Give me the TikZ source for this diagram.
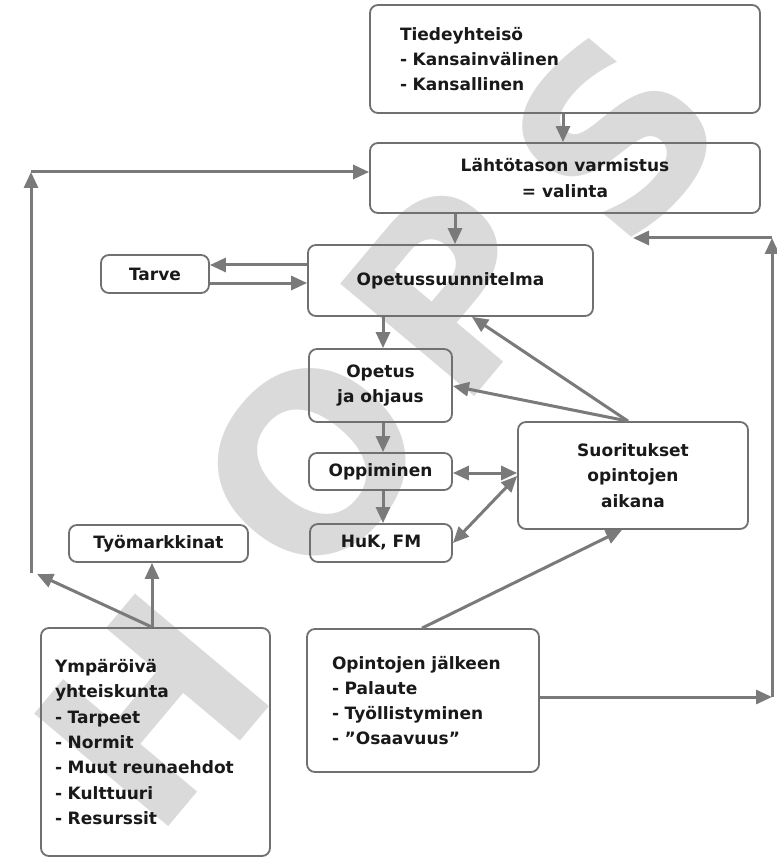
\documentclass[tikz,border=0pt]{standalone}
\usepackage{fontspec}
\setmainfont{DejaVu Sans}
\usetikzlibrary{arrows.meta,calc}
\definecolor{linegray}{RGB}{122,122,122}
\definecolor{boxgray}{RGB}{112,112,112}
\definecolor{markgray}{RGB}{218,218,218}
\definecolor{ink}{RGB}{25,25,25}

\begin{document}
\begin{tikzpicture}[x=1pt,y=-1pt,
  box/.style={draw=boxgray, line width=1.8pt, rounded corners=8pt, inner sep=0pt,
    font=\fontsize{17}{25.3}\selectfont\bfseries, text=ink, align=center},
  listbox/.style={box, align=left},
  flow/.style={draw=linegray, line width=3pt, -{Triangle[length=16pt,width=14pt]}},
  both/.style={draw=linegray, line width=3pt,
    {Triangle[length=16pt,width=14pt]}-{Triangle[length=16pt,width=14pt]}},
  wmletter/.style={text=markgray, font=\fontsize{240}{240}\selectfont\bfseries,
    rotate=50, inner sep=0pt}
]
% page
\fill[white] (0,0) rectangle (776,858);
\path[use as bounding box] (0,0) rectangle (776,858);

% background lettering
\node[wmletter] (wmH) at (152,710) {H};
\node[wmletter] (wmO) at (312,462) {O};
\node[wmletter] (wmP) at (450,290) {P};
\node[wmletter] (wmS) at (615,135) {S};

% boxes
\node[listbox, minimum width=390pt, minimum height=108pt, text width=330pt, inner xsep=30pt]
  (tiede) at (565,59) {Tiedeyhteisö\\- Kansainvälinen\\- Kansallinen};
\node[box, minimum width=390pt, minimum height=70pt] (lahto) at (565,178)
  {Lähtötason varmistus\\= valinta};
\node[box, minimum width=285pt, minimum height=71pt] (opsu) at (450.5,280.5) {Opetussuunnitelma};
\node[box, minimum width=108pt, minimum height=38pt] (tarve) at (155,274) {Tarve};
\node[box, minimum width=143pt, minimum height=73pt] (opetus) at (380.5,385.5) {Opetus\\ja ohjaus};
\node[box, minimum width=143pt, minimum height=37pt] (oppi) at (380.5,471.5) {Oppiminen};
\node[box, minimum width=142pt, minimum height=38pt] (huk) at (381,543) {HuK, FM};
\node[box, minimum width=230pt, minimum height=107pt] (suor) at (633,475.5)
  {Suoritukset\\opintojen\\aikana};
\node[box, minimum width=179pt, minimum height=37pt] (tyom) at (158.5,543.5) {Työmarkkinat};
\node[listbox, minimum width=229pt, minimum height=228pt, text width=201pt, inner xsep=14pt]
  (ymp) at (155.5,742)
  {Ympäröivä\\yhteiskunta\\- Tarpeet\\- Normit\\- Muut reunaehdot\\- Kulttuuri\\- Resurssit};
\node[listbox, minimum width=232pt, minimum height=143pt, text width=182pt, inner xsep=25pt]
  (opj) at (423,700.5)
  {Opintojen jälkeen\\- Palaute\\- Työllistyminen\\- ”Osaavuus”};

% connectors
\draw[flow] (563,0 |- tiede.south) -- (563,0 |- lahto.north);
\draw[flow] (455,0 |- lahto.south) -- (455,0 |- opsu.north);
\draw[flow] (opsu.west |- 0,265) -- (tarve.east |- 0,265);
\draw[flow] (tarve.east |- 0,283) -- (opsu.west |- 0,283);
\draw[flow] (383,0 |- opsu.south) -- (383,0 |- opetus.north);
\draw[flow] (383,0 |- opetus.south) -- (383,0 |- oppi.north);
\draw[flow] (383,0 |- oppi.south) -- (383,0 |- huk.north);
\draw[both] (oppi.east |- 0,473) -- (suor.west |- 0,473);
\draw[both] (huk.east |- 0,543) -- (suor.west |- 0,476);

\coordinate (suortop) at (628,0 |- suor.north);
\draw[flow] (suortop) -- (472,0 |- opsu.south);
\draw[flow] (suortop) -- (opetus.east |- 0,386);
\draw[flow] (422,0 |- opj.north) -- (622,0 |- suor.south);

% return path on the right
\coordinate (rb) at (772,697);
\coordinate (rt) at (772,238);
\coordinate (rend) at (633,238);
\draw[flow] (opj.east |- rb) -- (rb);
\draw[flow] (rb) -- (rt);
\draw[flow] (rt) -- (rend);

% society feeds labour market and the left return path
\coordinate (ymptop) at (152,0 |- ymp.north);
\coordinate (lb) at (31,573);
\coordinate (lbtip) at (37,574);
\coordinate (lt) at (31,172);
\draw[flow] (ymptop) -- (tyom.south -| ymptop);
\draw[flow] (ymptop) -- (lbtip);
\draw[flow] (lb) -- (lt);
\draw[flow] (lt) -- (lt -| lahto.west);
\end{tikzpicture}
\end{document}
